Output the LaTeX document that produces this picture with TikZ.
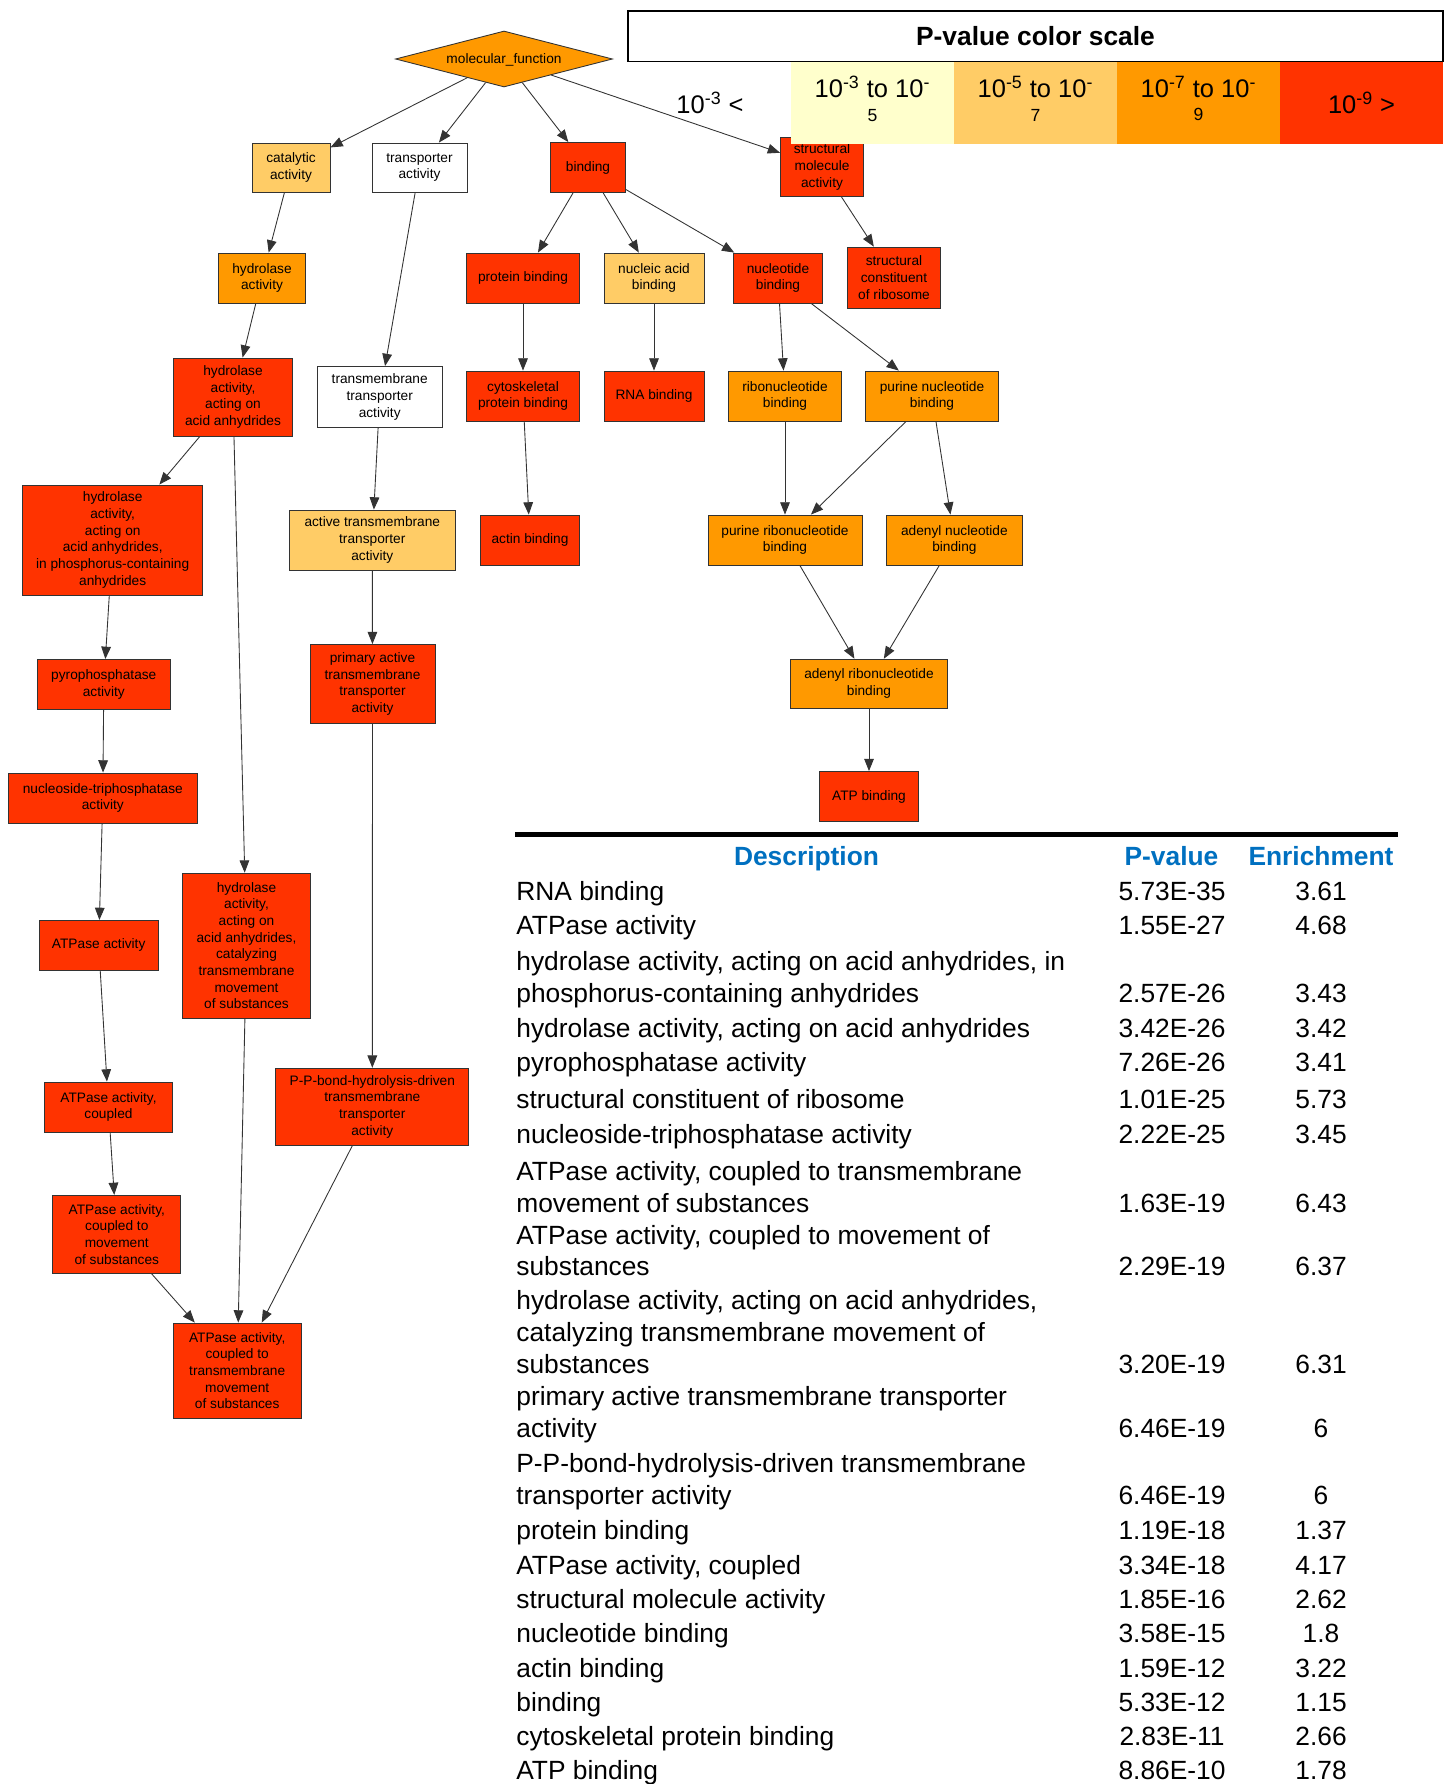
\documentclass[tikz,border=0pt]{standalone}
\usepackage{fontspec}
\setmainfont{Liberation Sans}
\usetikzlibrary{arrows.meta, shapes.geometric}

\definecolor{pvpale}{HTML}{FFFFCC}
\definecolor{pvlight}{HTML}{FFCC66}
\definecolor{pvorange}{HTML}{FF9900}
\definecolor{pvred}{HTML}{FF3300}
\definecolor{headblue}{HTML}{0070C0}

\newcommand{\termfont}{\fontsize{7.8pt}{9.5pt}\selectfont}
\newcommand{\tabfont}{\fontsize{15pt}{18pt}\selectfont}
\newcommand{\legendfont}{\fontsize{14.5pt}{15.5pt}\selectfont}

\begin{document}
\begin{tikzpicture}[
    x=0.02cm, y=-0.02cm,
    >={Triangle[length=7pt, width=5.5pt]},
    term/.style={draw=black!80, line width=0.5pt, rectangle, align=center, inner sep=1pt, font=\termfont},
    nosig/.style={term, fill=white},
    sig5/.style={term, fill=pvlight},
    sig7/.style={term, fill=pvorange},
    sig9/.style={term, fill=pvred},
    link/.style={draw=black!80, line width=0.5pt, ->},
    cell/.style={minimum width=3.26cm, minimum height=1.64cm, inner sep=0pt, align=center, font=\legendfont},
    celltext/.style={inner sep=0pt, align=center, font=\legendfont},
    tabtext/.style={font=\tabfont, inner sep=0pt, text height=12.6pt, text depth=2pt},
    tabhead/.style={tabtext, font=\tabfont\bfseries, text=headblue},
]
\clip (0,0) rectangle (1453,1784);

% Root
\node[sig7, diamond, aspect=3.9, minimum width=4.34cm, minimum height=1.12cm, inner sep=0pt, text depth=0pt] (mf) at (504,59) {molecular\_function};

% Level 1
\node[sig5, minimum width=1.56cm, minimum height=0.98cm] (cat) at (291,167.5) {catalytic\\activity};
\node[nosig, minimum width=1.9cm, minimum height=0.98cm] (transp) at (419.5,167.5) {transporter\\activity};
\node[sig9, minimum width=1.5cm, minimum height=1cm] (bind) at (588,167.5) {binding};
\node[sig9, minimum width=1.66cm, minimum height=1.18cm] (strmol) at (822,167) {structural\\molecule\\activity};

% Level 2
\node[sig7, minimum width=1.74cm, minimum height=1cm] (hydro) at (262,278) {hydrolase\\activity};
\node[sig9, minimum width=2.26cm, minimum height=1cm] (protbind) at (523,278) {protein binding};
\node[sig5, minimum width=2cm, minimum height=1cm] (nucacid) at (654,278) {nucleic acid\\binding};
\node[sig9, minimum width=1.78cm, minimum height=1cm] (nucleotide) at (778,278) {nucleotide\\binding};
\node[sig9, minimum width=1.86cm, minimum height=1.22cm] (strconst) at (894,277.6) {structural\\constituent\\of ribosome};

% Level 3
\node[sig9, minimum width=2.38cm, minimum height=1.56cm] (hydroacid) at (233,397) {hydrolase\\activity,\\acting on\\acid anhydrides};
\node[nosig, minimum width=2.5cm, minimum height=1.22cm] (tmtransp) at (379.7,397) {transmembrane\\transporter\\activity};
\node[sig9, minimum width=2.26cm, minimum height=1cm] (cytosk) at (523,396) {cytoskeletal\\protein binding};
\node[sig9, minimum width=2cm, minimum height=1cm] (rnabind) at (654,396) {RNA binding};
\node[sig7, minimum width=2.26cm, minimum height=1cm] (ribonuc) at (785,396) {ribonucleotide\\binding};
\node[sig7, minimum width=2.66cm, minimum height=1cm] (purnuc) at (932,396) {purine nucleotide\\binding};

% Level 4
\node[sig9, minimum width=3.6cm, minimum height=2.2cm] (hydrophos) at (112.7,540) {hydrolase\\activity,\\acting on\\acid anhydrides,\\in phosphorus-containing\\anhydrides};
\node[sig5, minimum width=3.32cm, minimum height=1.2cm] (activetm) at (372.3,540) {active transmembrane\\transporter\\activity};
\node[sig9, minimum width=1.98cm, minimum height=1cm] (actin) at (530,540) {actin binding};
\node[sig7, minimum width=3.08cm, minimum height=1cm] (purribo) at (785,540) {purine ribonucleotide\\binding};
\node[sig7, minimum width=2.72cm, minimum height=1cm] (adenylnuc) at (954.4,540) {adenyl nucleotide\\binding};

% Level 5
\node[sig9, minimum width=2.66cm, minimum height=1cm] (pyro) at (103.8,684.4) {pyrophosphatase\\activity};
\node[sig9, minimum width=2.5cm, minimum height=1.58cm] (primtm) at (372.5,684) {primary active\\transmembrane\\transporter\\activity};
\node[sig7, minimum width=3.14cm, minimum height=0.98cm] (adenylribo) at (869,683.7) {adenyl ribonucleotide\\binding};

% Level 6
\node[sig9, minimum width=3.78cm, minimum height=1cm] (ntpase) at (102.8,798) {nucleoside-triphosphatase\\activity};
\node[sig9, minimum width=1.98cm, minimum height=1cm] (atpbind) at (869,796.5) {ATP binding};

% Level 7 and below
\node[sig9, minimum width=2.38cm, minimum height=1cm] (atpase) at (98.7,945.4) {ATPase activity};
\node[sig9, minimum width=2.56cm, minimum height=2.9cm] (hydrocat) at (246.5,945.6) {hydrolase\\activity,\\acting on\\acid anhydrides,\\catalyzing\\transmembrane\\movement\\of substances};
\node[sig9, minimum width=2.56cm, minimum height=1cm] (atpcoupled) at (108.5,1107) {ATPase activity,\\coupled};
\node[sig9, minimum width=3.86cm, minimum height=1.54cm] (ppbond) at (372.3,1106.7) {P-P-bond-hydrolysis-driven\\transmembrane\\transporter\\activity};
\node[sig9, minimum width=2.56cm, minimum height=1.56cm] (atpmove) at (116.8,1234.4) {ATPase activity,\\coupled to\\movement\\of substances};
\node[sig9, minimum width=2.56cm, minimum height=1.9cm] (atptm) at (237.2,1370.5) {ATPase activity,\\coupled to\\transmembrane\\movement\\of substances};

% Arrows
\draw[link] (mf) -- (cat);
\draw[link] (mf) -- (transp);
\draw[link] (mf) -- (bind);
\draw[link] (mf) -- (strmol);
\draw[link] (cat) -- (hydro);
\draw[link] (hydro) -- (hydroacid);
\draw[link] (transp) -- (tmtransp);
\draw[link] (hydroacid) -- (hydrophos);
\draw[link] (hydroacid) -- (hydrocat);
\draw[link] (tmtransp) -- (activetm);
\draw[link] (hydrophos) -- (pyro);
\draw[link] (activetm) -- (primtm);
\draw[link] (pyro) -- (ntpase);
\draw[link] (ntpase) -- (atpase);
\draw[link] (atpase) -- (atpcoupled);
\draw[link] (atpcoupled) -- (atpmove);
\draw[link] (atpmove) -- (atptm);
\draw[link] (hydrocat) -- (atptm);
\draw[link] (primtm) -- (ppbond);
\draw[link] (ppbond) -- (atptm);
\draw[link] (bind) -- (protbind);
\draw[link] (bind) -- (nucacid);
\draw[link] (bind) -- (nucleotide);
\draw[link] (strmol) -- (strconst);
\draw[link] (protbind) -- (cytosk);
\draw[link] (nucacid) -- (rnabind);
\draw[link] (nucleotide) -- (ribonuc);
\draw[link] (nucleotide) -- (purnuc);
\draw[link] (cytosk) -- (actin);
\draw[link] (ribonuc) -- (purribo);
\draw[link] (purnuc) -- (purribo);
\draw[link] (purnuc) -- (adenylnuc);
\draw[link] (purribo) -- (adenylribo);
\draw[link] (adenylnuc) -- (adenylribo);
\draw[link] (adenylribo) -- (atpbind);

% P-value color scale
\node[draw, line width=1pt, fill=white, minimum width=16.3cm, minimum height=1.01cm, font=\fontsize{15pt}{18pt}\selectfont\bfseries] (scaletitle) at (1035.5,36.3) {P-value color scale};
\node[font=\legendfont] (celllow) at (710,103) {10\textsuperscript{-3} <};
\node[cell, fill=pvpale] (cell3) at (872.5,103) {};
\node[cell, fill=pvlight] (cell5) at (1035.5,103) {};
\node[cell, fill=pvorange] (cell7) at (1198.5,103) {};
\node[cell, fill=pvred] (cell9) at (1361.5,103) {10\textsuperscript{-9} >};
\node[celltext] (lab3) at ([yshift=2.6pt]cell3.center) {10\textsuperscript{-3} to 10\textsuperscript{-}\\[-2pt]\fontsize{10pt}{12pt}\selectfont 5};
\node[celltext] (lab5) at ([yshift=2.6pt]cell5.center) {10\textsuperscript{-5} to 10\textsuperscript{-}\\[-2pt]\fontsize{10pt}{12pt}\selectfont 7};
\node[celltext] (lab7) at ([yshift=2.6pt]cell7.center) {10\textsuperscript{-7} to 10\textsuperscript{-}\\[-2pt]\fontsize{10pt}{12pt}\selectfont 9};

% Table
\draw[line width=2.3pt] (515,834.5) -- (1398,834.5);
\node[tabhead] (hdesc) at (806.5,856) {Description};
\node[tabhead] (hpval) at (1171.5,856) {P-value};
\node[tabhead] (henr) at (1321,856) {Enrichment};

\foreach \ty/\txt [count=\i] in {
    891.5/RNA binding,
    925/ATPase activity,
    961.5/{hydrolase activity, acting on acid anhydrides, in},
    993.3/phosphorus-containing anhydrides,
    1028/{hydrolase activity, acting on acid anhydrides},
    1062/pyrophosphatase activity,
    1099.5/structural constituent of ribosome,
    1134/nucleoside-triphosphatase activity,
    1171/{ATPase activity, coupled to transmembrane},
    1202.7/movement of substances,
    1235/{ATPase activity, coupled to movement of},
    1266.5/substances,
    1300/{hydrolase activity, acting on acid anhydrides,},
    1332/catalyzing transmembrane movement of,
    1364/substances,
    1396.5/primary active transmembrane transporter,
    1428/activity,
    1463.5/P-P-bond-hydrolysis-driven transmembrane,
    1495.5/transporter activity,
    1530.5/protein binding,
    1565/{ATPase activity, coupled},
    1599/structural molecule activity,
    1633.5/nucleotide binding,
    1668.5/actin binding,
    1702.5/binding,
    1736.5/cytoskeletal protein binding,
    1770.5/ATP binding}
    \node[tabtext, anchor=west] (desc\i) at (516,\ty) {\txt};

\foreach \ty/\pv/\en [count=\i] in {
    891.5/5.73E-35/3.61, 925/1.55E-27/4.68, 993.3/2.57E-26/3.43,
    1028/3.42E-26/3.42, 1062/7.26E-26/3.41, 1099.5/1.01E-25/5.73,
    1134/2.22E-25/3.45, 1202.7/1.63E-19/6.43, 1266.5/2.29E-19/6.37,
    1364/3.20E-19/6.31, 1428/6.46E-19/6, 1495.5/6.46E-19/6,
    1530.5/1.19E-18/1.37, 1565/3.34E-18/4.17, 1599/1.85E-16/2.62,
    1633.5/3.58E-15/1.8, 1668.5/1.59E-12/3.22, 1702.5/5.33E-12/1.15,
    1736.5/2.83E-11/2.66, 1770.5/8.86E-10/1.78}{
    \node[tabtext] (pval\i) at (1172,\ty) {\pv};
    \node[tabtext] (enr\i) at (1321,\ty) {\en};
}

\end{tikzpicture}
\end{document}
